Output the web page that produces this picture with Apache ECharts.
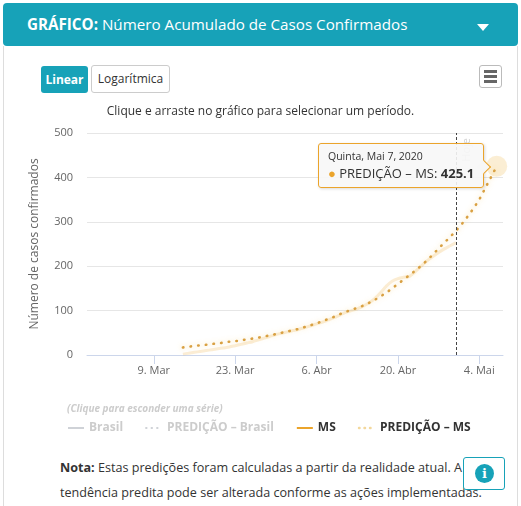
<!DOCTYPE html>
<html>
<head lang="pt">
    <meta charset="UTF-8">
    <title>Número Acumulado de Casos Confirmados</title>
    <script src="https://cdn.jsdelivr.net/npm/echarts@6/dist/echarts.min.js"></script>
    <style>
        body { margin: 0; width: 521px; height: 506px; overflow: hidden; background: #fff; font-family: "Open Sans", sans-serif; color: #333; position: relative; }
        .cabecalho { position: absolute; left: 3px; top: 3px; width: 515px; height: 43px; background: #17a2b8; border-radius: 4px; color: #fff; font-size: 15.2px; line-height: 43px; box-sizing: border-box; padding-left: 24px; }
        .cabecalho .seta { position: absolute; left: 474px; top: 21px; width: 0; height: 0; border-left: 6px solid transparent; border-right: 6px solid transparent; border-top: 7px solid #fff; }
        .cartao { position: absolute; left: 3px; top: 46px; width: 513px; height: 470px; border-left: 1px solid #ddd; border-right: 1px solid #ddd; }
        .btn { position: absolute; box-sizing: border-box; font-size: 12px; text-align: center; border-radius: 3px; }
        .btn-linear { left: 41px; top: 66px; width: 47px; height: 27px; line-height: 27px; background: #17a2b8; color: #fff; font-weight: bold; }
        .btn-log { left: 91px; top: 65px; width: 79px; height: 28px; line-height: 26px; border: 1px solid #ccc; background: #fff; color: #333; }
        .menu { position: absolute; left: 479px; top: 65px; width: 23px; height: 23px; box-sizing: border-box; border: 1px solid #bbb; border-radius: 3px; }
        .menu span { position: absolute; left: 4px; width: 13px; height: 3px; background: #666; }
        #grafico { position: absolute; left: 4px; top: 96px; width: 513px; height: 350px; }
        .nota { position: absolute; left: 60px; top: 455px; width: 400px; font-size: 12.6px; line-height: 25px; color: #333; white-space: nowrap; }
        .info { position: absolute; left: 463px; top: 457px; width: 42px; height: 33px; box-sizing: border-box; border: 1px solid #17a2b8; border-radius: 3px; background: #fff; }
        .info span { position: absolute; left: 11px; top: 6px; width: 19px; height: 19px; border-radius: 50%; background: #17a2b8; color: #fff; font-weight: bold; font-size: 13px; line-height: 19px; text-align: center; font-family: "DejaVu Serif", serif; }
    </style>
</head>
<body>
<div class="cabecalho"><b>GRÁFICO:</b> Número Acumulado de Casos Confirmados<div class="seta"></div></div>
<div class="cartao"></div>
<div class="btn btn-linear">Linear</div>
<div class="btn btn-log">Logarítmica</div>
<div class="menu"><span style="top:4px"></span><span style="top:9px"></span><span style="top:14px"></span></div>
<div id="grafico"></div>
<div class="nota"><b>Nota:</b> Estas predições foram calculadas a partir da realidade atual. A<br>tendência predita pode ser alterada conforme as ações implementadas.</div>
<div class="info"><span>i</span></div>
<script type="text/javascript">
    // datas das marcas do eixo x
    var tickDates = ['2020-03-09', '2020-03-23', '2020-04-06', '2020-04-20', '2020-05-04'];
    var meses = ['Jan', 'Fev', 'Mar', 'Abr', 'Mai', 'Jun'];
    var diasSemana = ['Domingo', 'Segunda', 'Terça', 'Quarta', 'Quinta', 'Sexta', 'Sábado'];

    // MS - casos confirmados (a partir de 14/03)
    var msInicio = '2020-03-14';
    var msValores = [2, 4, 6, 8, 10, 12, 14, 16, 18, 21,
        24, 27, 30, 34, 38, 42, 46, 49, 52, 55,
        58, 62, 66, 70, 74, 79, 84, 90, 96, 100,
        104, 110, 117, 127, 140, 155, 166, 172, 175, 177,
        188, 200, 212, 222, 231, 239, 246, 253];

    // PREDIÇÃO - MS (a partir de 14/03)
    var predInicio = '2020-03-14';
    var predValores = [17, 19, 20, 22, 23, 25, 26, 28, 30, 31,
        33, 35, 37, 39, 42, 44, 47, 50, 53, 56,
        59, 63, 67, 71, 76, 81, 86, 92, 97, 102,
        106, 111, 117, 124, 132, 140, 150, 160, 170, 180,
        190, 201, 213, 226, 240, 253, 266, 280, 295, 312,
        330, 350, 375, 400, 425.1];

    // Brasil fica escondido (legenda desligada)
    var brasilValores = [];
    var predBrasilValores = [];

    var hoje = '2020-04-30';

    var DIA = 24 * 3600 * 1000;
    function ts(s) { var p = s.split('-'); return Date.UTC(+p[0], +p[1] - 1, +p[2]); }
    function serie(inicio, valores) {
        var t0 = ts(inicio);
        return valores.map(function (v, i) { return [t0 + i * DIA, v]; });
    }
    var msDados = serie(msInicio, msValores);
    var predDados = serie(predInicio, predValores);
    var ultimo = predDados[predDados.length - 1];

    var laranja = '#eba42b';
    var semSimbolo = { opacity: 0 };

    var grafico = echarts.init(document.getElementById('grafico'));
    var option = {
        animation: false,
        textStyle: { fontFamily: '"Open Sans", sans-serif' },
        title: [{
            text: 'Clique e arraste no gráfico para selecionar um período.',
            left: 'center', top: 5,
            textStyle: { fontSize: 12, fontWeight: 'normal', color: '#333' }
        }, {
            text: '(Clique para esconder uma série)',
            left: 58, top: 303,
            textStyle: { fontSize: 10, fontWeight: 'bold', fontStyle: 'italic', color: '#ccc' }
        }],
        grid: { left: 83, right: 14, top: 37, bottom: 91 },
        tooltip: {
            trigger: 'item',
            transitionDuration: 0,
            backgroundColor: 'rgba(247,247,247,0.9)',
            borderColor: laranja,
            borderWidth: 1,
            padding: [5, 9],
            extraCssText: 'box-shadow:1px 1px 3px rgba(0,0,0,0.15);border-radius:3px;',
            position: function () { return [314, 47]; },
            formatter: function (p) {
                var d = new Date(p.value[0]);
                var data = diasSemana[d.getUTCDay()] + ', ' + meses[d.getUTCMonth()] + ' ' + d.getUTCDate() + ', ' + d.getUTCFullYear();
                return '<div style="font-size:10.5px;color:#333;line-height:15px">' + data + '</div>' +
                    '<div style="font-size:13px;color:#333;line-height:18px"><span style="color:' + laranja + '">●</span> PREDIÇÃO – MS: <b>' + p.value[1] + '</b></div>' +
                    '<span style="position:absolute;right:-6px;top:18px;width:9px;height:9px;background:rgba(247,247,247,1);border-top:1px solid ' + laranja + ';border-right:1px solid ' + laranja + ';transform:rotate(45deg)"></span>';
            }
        },
        legend: {
            data: [
                { name: 'Brasil', itemStyle: semSimbolo, lineStyle: { width: 2 } },
                { name: 'PREDIÇÃO – Brasil', itemStyle: semSimbolo, lineStyle: { width: 2, type: [0.5, 5], cap: 'round' } },
                { name: 'MS', itemStyle: semSimbolo, lineStyle: { color: laranja, width: 2 } },
                { name: 'PREDIÇÃO – MS', itemStyle: semSimbolo, lineStyle: { color: 'rgba(235,190,90,0.6)', width: 2.5, type: [0.5, 5], cap: 'round' } }
            ],
            selected: { 'Brasil': false, 'PREDIÇÃO – Brasil': false },
            left: 58, top: 321,
            itemWidth: 16, itemHeight: 10, itemGap: 22,
            inactiveColor: '#ccc',
            textStyle: { fontSize: 12, fontWeight: 'bold', color: '#333' }
        },
        xAxis: {
            type: 'value',
            min: ts('2020-02-26') + DIA / 2,
            max: ts('2020-05-08') + DIA / 12,
            splitLine: { show: false },
            axisLine: { lineStyle: { color: '#ccd6eb' } },
            axisTick: { customValues: tickDates.map(ts), length: 9, lineStyle: { color: '#ccd6eb' } },
            axisLabel: {
                customValues: tickDates.map(ts),
                margin: 10, fontSize: 11, color: '#666',
                formatter: function (v) { var d = new Date(v); return d.getUTCDate() + '. ' + meses[d.getUTCMonth()]; }
            }
        },
        yAxis: {
            type: 'value', min: 0, max: 500, interval: 100,
            name: 'Número de casos confirmados',
            nameLocation: 'middle', nameGap: 46,
            nameTextStyle: { fontSize: 12, color: '#666' },
            axisLine: { show: false }, axisTick: { show: false },
            axisLabel: { fontSize: 11, color: '#666', margin: 14 },
            splitLine: { lineStyle: { color: '#e6e6e6' } }
        },
        series: [{
            name: 'Brasil', type: 'line', data: brasilValores, symbol: 'none',
            itemStyle: { color: '#7cb5ec' }, lineStyle: { width: 2 }
        }, {
            name: 'PREDIÇÃO – Brasil', type: 'line', data: predBrasilValores, symbol: 'none',
            itemStyle: { color: '#7cb5ec' }, lineStyle: { width: 2, type: [0.5, 5], cap: 'round' }
        }, {
            name: 'MS', type: 'line', data: msDados, symbol: 'none', smooth: 0.25,
            itemStyle: { color: laranja },
            lineStyle: { width: 3, color: 'rgba(235,164,43,0.2)' }
        }, {
            name: 'PREDIÇÃO – MS', type: 'line', data: predDados, symbol: 'none',
            itemStyle: { color: 'rgba(240,200,110,0.7)' },
            lineStyle: {
                width: 2.6, color: '#d9a042', type: [0.5, 7.2], cap: 'round',
                shadowColor: 'rgba(245,205,110,0.7)', shadowBlur: 5
            },
            markLine: {
                silent: true, symbol: 'none',
                data: [{ xAxis: ts(hoje) + DIA / 12 }],
                lineStyle: { type: [3, 2], color: '#444', width: 1 },
                label: { show: true, formatter: 'Hoje', position: 'insideEndBottom', color: 'rgba(102,102,102,0.3)', fontSize: 11 }
            }
        }, {
            name: 'destaque', type: 'scatter', data: [ultimo], symbolSize: 21,
            itemStyle: { color: 'rgba(240,185,80,0.3)' }
        }]
    };
    grafico.setOption(option);
    grafico.dispatchAction({ type: 'showTip', seriesIndex: 4, dataIndex: 0 });
</script>
</body>
</html>
